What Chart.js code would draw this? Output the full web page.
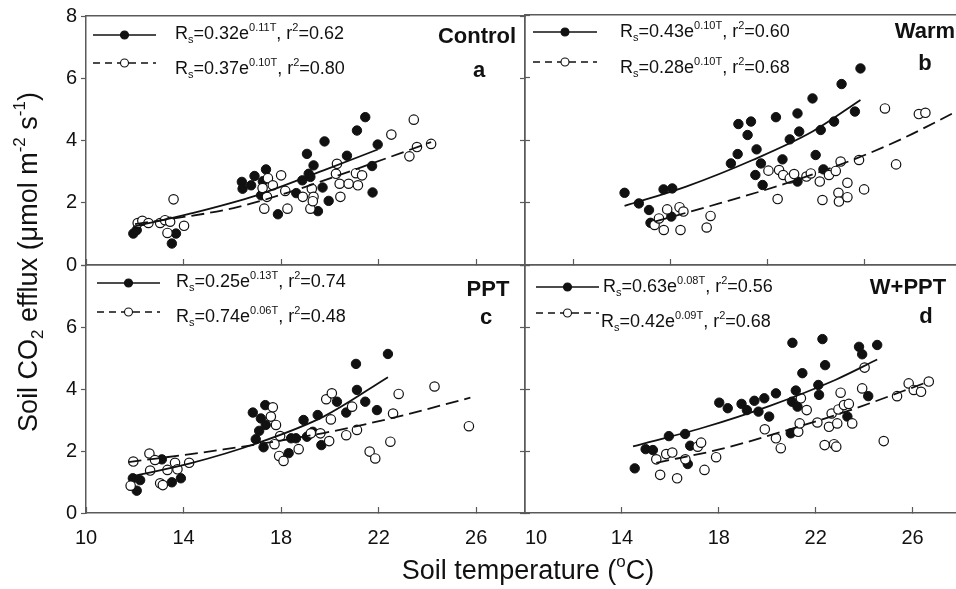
<!DOCTYPE html>
<html>
<head>
<meta charset="utf-8">
<script src="https://cdn.jsdelivr.net/npm/chart.js@4.4.1/dist/chart.umd.min.js"></script>
<style>
  html, body { margin: 0; padding: 0; overflow: hidden; background: #fff; width: 956px; height: 589px; }
  #wrap { position: relative; width: 972px; height: 589px; }
  #wrap canvas { position: absolute; left: 0; top: 0; }
</style>
</head>
<body>
<div id="wrap">
  <canvas id="cA" width="972" height="589"></canvas>
  <canvas id="cB" width="972" height="589"></canvas>
  <canvas id="cC" width="972" height="589"></canvas>
  <canvas id="cD" width="972" height="589"></canvas>
</div>
<script>
// Axis ticks
const yTicks = [0, 2, 4, 6, 8];
const xTicksLabelled = [10, 14, 18, 22, 26];
const xTicksWarm = [12, 16, 20, 24];

// Panel a: Control  [soil temperature, Rs]
const controlFilled = [[11.94,1.01],[12.08,1.12],[13.52,0.69],[13.69,1.01],[16.39,2.67],[16.42,2.45],[16.77,2.56],[16.91,2.86],[17.38,3.07],[17.25,2.69],[17.18,2.24],[17.87,1.63],[18.62,2.31],[18.87,2.72],[19.06,3.57],[19.13,2.93],[19.33,3.20],[19.20,2.83],[19.51,1.73],[19.70,2.49],[19.78,3.97],[19.95,2.06],[20.70,3.51],[21.11,4.32],[21.45,4.75],[21.73,3.18],[21.75,2.33],[21.96,3.87]];
const controlOpen = [[12.12,1.35],[12.31,1.42],[12.56,1.35],[13.04,1.35],[13.24,1.44],[13.45,1.39],[13.34,1.03],[13.59,2.11],[14.02,1.26],[17.24,2.47],[17.46,2.79],[17.66,2.56],[18.00,2.88],[18.17,2.38],[17.42,2.19],[17.31,1.81],[18.26,1.81],[18.89,2.19],[19.26,2.45],[19.33,2.19],[19.20,1.81],[19.30,2.05],[20.29,3.25],[20.25,2.93],[20.40,2.61],[20.43,2.19],[20.77,2.61],[21.07,2.95],[21.15,2.56],[21.32,2.88],[22.52,4.19],[23.44,4.67],[23.26,3.49],[23.57,3.79],[24.15,3.89]];
const controlFitFilled = [[11.94,1.23],[14.27,1.65],[17.00,2.24],[19.74,3.04],[21.96,3.71]];
const controlFitOpen = [[12.01,1.31],[16.05,1.83],[18.37,2.35],[21.11,3.09],[24.15,3.95]];
const controlEq = [['0.32','0.11','0.62'], ['0.37','0.10','0.80']];

// Panel b: Warm
const warmFilled = [[14.11,2.31],[14.70,1.97],[15.12,1.76],[15.18,1.35],[15.72,2.42],[16.08,2.45],[16.04,1.55],[18.50,3.25],[18.78,3.55],[18.81,4.51],[19.19,4.16],[19.33,4.59],[19.56,3.70],[19.74,3.25],[19.51,2.88],[19.81,2.56],[20.36,4.73],[20.63,3.38],[20.93,4.02],[21.25,4.85],[21.32,4.27],[21.25,2.67],[21.87,5.33],[22.00,3.52],[22.21,4.32],[22.32,3.06],[22.76,4.59],[23.07,5.79],[23.62,4.91],[23.85,6.29]];
const warmOpen = [[15.35,1.28],[15.73,1.12],[15.53,1.49],[15.87,1.78],[16.38,1.85],[16.54,1.71],[16.42,1.12],[17.50,1.20],[17.66,1.57],[20.05,3.02],[20.43,2.11],[20.49,3.04],[20.66,2.88],[20.93,2.77],[21.11,2.91],[21.62,2.83],[21.80,2.93],[22.17,2.67],[22.28,2.08],[22.55,2.88],[22.83,3.01],[23.03,3.31],[22.94,2.31],[22.96,2.03],[23.31,2.63],[23.31,2.17],[23.79,3.36],[24.00,2.42],[24.86,5.01],[25.32,3.22],[26.26,4.83],[26.53,4.87]];
const warmFitFilled = [[14.11,1.89],[16.65,2.51],[19.40,3.36],[21.87,4.27],[23.85,5.28]];
const warmFitOpen = [[15.35,1.39],[18.02,1.97],[20.77,2.61],[23.51,3.36],[25.60,4.05],[27.90,4.95]];
const warmEq = [['0.43','0.10','0.60'], ['0.28','0.10','0.68']];

// Panel c: PPT
const pptFilled = [[11.92,1.12],[12.08,0.72],[12.22,1.06],[13.11,1.73],[13.52,0.99],[13.89,1.12],[16.84,3.24],[16.96,2.38],[17.35,3.48],[17.17,3.05],[17.10,2.65],[17.28,2.12],[17.37,2.84],[18.31,1.93],[18.41,2.41],[18.61,2.41],[18.92,3.00],[19.06,2.46],[19.30,2.62],[19.50,3.16],[19.65,2.19],[20.29,3.59],[20.67,3.24],[21.11,3.97],[21.07,4.81],[21.45,3.59],[21.93,3.32],[22.38,5.13]];
const pptOpen = [[11.94,1.66],[11.83,0.88],[12.60,1.92],[12.83,1.71],[12.63,1.37],[13.04,0.96],[13.15,0.90],[13.34,1.39],[13.65,1.62],[13.75,1.41],[14.23,1.62],[17.66,3.41],[17.58,3.11],[17.79,2.84],[17.96,2.48],[17.73,2.22],[17.92,1.84],[18.10,1.68],[18.72,2.06],[19.22,2.57],[19.61,2.57],[19.85,3.67],[20.08,3.86],[20.04,3.02],[19.97,2.32],[20.67,2.51],[20.91,3.43],[21.11,2.68],[21.63,1.98],[21.86,1.76],[22.48,2.30],[22.59,3.21],[22.82,3.84],[24.29,4.08],[25.70,2.80]];
const pptFitFilled = [[11.92,1.19],[14.27,1.60],[17.01,2.25],[19.74,3.11],[22.38,4.38]];
const pptFitOpen = [[11.74,1.64],[15.64,2.05],[19.74,2.58],[22.48,3.05],[25.76,3.72]];
const pptEq = [['0.25','0.13','0.74'], ['0.74','0.06','0.48']];

// Panel d: W+PPT
const wpptFilled = [[14.53,1.44],[14.98,2.06],[15.28,2.03],[15.94,2.48],[16.61,2.55],[16.82,2.17],[16.72,1.58],[18.02,3.56],[18.37,3.38],[18.94,3.52],[19.16,3.32],[19.47,3.62],[19.64,3.27],[19.88,3.70],[20.08,3.11],[20.36,3.86],[21.04,5.49],[21.02,3.59],[21.18,3.95],[21.25,3.43],[21.45,4.51],[20.97,2.57],[22.11,4.13],[22.14,3.81],[22.28,5.61],[22.39,4.77],[23.31,3.11],[23.79,5.36],[23.92,5.12],[24.17,3.77],[24.54,5.42]];
const wpptOpen = [[15.42,1.73],[15.58,1.23],[15.83,1.90],[16.08,1.95],[16.28,1.12],[16.62,1.73],[17.13,2.14],[17.27,2.27],[17.41,1.39],[17.89,1.80],[19.90,2.70],[20.36,2.41],[20.56,2.09],[21.28,2.62],[21.34,2.89],[21.39,3.70],[21.63,3.32],[22.07,2.92],[22.37,2.19],[22.55,2.78],[22.76,2.22],[22.85,2.14],[22.89,2.89],[22.66,3.21],[22.94,3.34],[23.03,3.88],[23.17,3.48],[23.37,3.52],[23.51,2.89],[23.92,4.02],[24.02,4.69],[24.81,2.32],[25.36,3.77],[25.84,4.18],[26.05,3.97],[26.35,3.91],[26.67,4.24]];
const wpptFitFilled = [[14.46,2.15],[17.34,2.75],[20.08,3.45],[22.83,4.30],[24.54,4.95]];
const wpptFitOpen = [[15.42,1.62],[18.02,2.05],[20.77,2.66],[23.51,3.34],[26.67,4.24]];
const wpptEq = [['0.63','0.08','0.56'], ['0.42','0.09','0.68']];

const FONT = "'Liberation Sans', Arial, Helvetica, sans-serif";
const INK = '#111';
const AXIS = '#5a5a5a';
const PAGE_W = 972, PAGE_H = 589;

const panels = [
  { id: 'cA', box: [86, 15, 525, 265], left: true, top: true, bottom: false, xTicks: xTicksLabelled,
    filled: controlFilled, open: controlOpen, fitFilled: controlFitFilled, fitOpen: controlFitOpen, eq: controlEq,
    name: ['Control', 477, 37], letter: ['a', 479, 71],
    leg: [{ x1: 93, x2: 156, y: 35, tx: 175, ty: 34 }, { x1: 93, x2: 156, y: 63, tx: 175, ty: 69 }] },
  { id: 'cB', box: [525, 15, 961, 265], left: false, top: true, bottom: false, xTicks: xTicksWarm,
    filled: warmFilled, open: warmOpen, fitFilled: warmFitFilled, fitOpen: warmFitOpen, eq: warmEq,
    name: ['Warm', 925, 32], letter: ['b', 925, 64],
    leg: [{ x1: 533, x2: 597, y: 32, tx: 620, ty: 32 }, { x1: 533, x2: 597, y: 62, tx: 620, ty: 68 }] },
  { id: 'cC', box: [86, 265, 525, 513], left: true, top: false, bottom: true, xTicks: xTicksLabelled,
    filled: pptFilled, open: pptOpen, fitFilled: pptFitFilled, fitOpen: pptFitOpen, eq: pptEq,
    name: ['PPT', 488, 290], letter: ['c', 486, 318], titles: true,
    leg: [{ x1: 97, x2: 160, y: 283, tx: 176, ty: 282 }, { x1: 97, x2: 160, y: 312, tx: 176, ty: 317 }] },
  { id: 'cD', box: [525, 265, 961, 513], left: false, top: false, bottom: true, xTicks: xTicksLabelled.slice(1), tenLabel: true,
    filled: wpptFilled, open: wpptOpen, fitFilled: wpptFitFilled, fitOpen: wpptFitOpen, eq: wpptEq,
    name: ['W+PPT', 908, 288], letter: ['d', 926, 317],
    leg: [{ x1: 536, x2: 599, y: 287, tx: 603, ty: 287 }, { x1: 536, x2: 599, y: 313, tx: 601, ty: 322 }] }
];

const toXY = arr => arr.map(([x, y]) => ({ x, y }));

function eqParts([a, b, r2]) {
  return [['R', 'n'], ['s', 'sub'], ['=' + a + 'e', 'n'], [b + 'T', 'sup'], [', r', 'n'], ['2', 'sup'], ['=' + r2, 'n']];
}

// draw text with sub/superscript pieces
function drawRich(ctx, x, y, parts, size, align) {
  const small = Math.round(size * 0.62);
  let total = 0;
  const items = parts.map(([txt, kind]) => {
    const fs = kind === 'n' ? size : small;
    ctx.font = fs + 'px ' + FONT;
    const w = ctx.measureText(txt).width;
    total += w;
    return { txt, kind, fs, w };
  });
  let cx = align === 'center' ? x - total / 2 : x;
  ctx.textAlign = 'left';
  ctx.textBaseline = 'middle';
  items.forEach(it => {
    ctx.font = it.fs + 'px ' + FONT;
    const dy = it.kind === 'sup' ? -size * 0.36 : it.kind === 'sub' ? size * 0.32 : 0;
    ctx.fillText(it.txt, cx, y + dy);
    cx += it.w;
  });
}

function legendRow(ctx, row, dashed, parts) {
  ctx.strokeStyle = INK;
  ctx.lineWidth = 1.6;
  ctx.setLineDash(dashed ? [7, 5] : []);
  ctx.beginPath();
  ctx.moveTo(row.x1, row.y);
  ctx.lineTo(row.x2, row.y);
  ctx.stroke();
  ctx.setLineDash([]);
  const mx = (row.x1 + row.x2) / 2;
  ctx.beginPath();
  ctx.arc(mx, row.y, 4, 0, Math.PI * 2);
  ctx.fillStyle = dashed ? '#fff' : INK;
  ctx.fill();
  ctx.lineWidth = 1.1;
  ctx.stroke();
  ctx.fillStyle = INK;
  drawRich(ctx, row.tx, row.ty, parts, 18, 'left');
}

function decoPlugin(p) {
  return {
    id: 'deco',
    afterDraw(chart) {
      const ctx = chart.ctx;
      ctx.save();
      legendRow(ctx, p.leg[0], false, eqParts(p.eq[0]));
      legendRow(ctx, p.leg[1], true, eqParts(p.eq[1]));
      ctx.fillStyle = INK;
      ctx.textAlign = 'center';
      ctx.textBaseline = 'middle';
      ctx.font = 'bold 22px ' + FONT;
      ctx.fillText(p.name[0], p.name[1], p.name[2]);
      ctx.fillText(p.letter[0], p.letter[1], p.letter[2]);
      if (p.titles) {
        drawRich(ctx, 528, 572, [['Soil temperature (', 'n'], ['o', 'sup'], ['C)', 'n']], 27, 'center');
        ctx.translate(30, 262);
        ctx.rotate(-Math.PI / 2);
        drawRich(ctx, 0, 0, [['Soil CO', 'n'], ['2', 'sub'], [' efflux (\u03bcmol m', 'n'], ['-2', 'sup'], [' s', 'n'], ['-1', 'sup'], [')', 'n']], 27, 'center');
      }
      ctx.restore();
    }
  };
}

// the left axis box is as wide as the left margin so its labels are not clipped;
// the bottom axis box is as tall as the bottom margin for the same reason
function axisSizes(p) {
  const [l, t, r, b] = p.box;
  return { yWidth: p.left ? l : 0, xHeight: p.bottom ? PAGE_H - b : 0 };
}

function scalesFor(p) {
  const tickFont = { family: FONT, size: 20 };
  const border = { display: true, color: AXIS, width: 1.5 };
  const sz = axisSizes(p);
  const scales = {
    x: {
      type: 'linear', position: 'bottom', min: 10, max: 28, weight: 0,
      afterFit: s => { s.height = sz.xHeight; },
      afterBuildTicks: s => { s.ticks = p.xTicks.map(v => ({ value: v })); },
      grid: { drawOnChartArea: false, tickLength: -6, tickColor: AXIS, tickWidth: 1.2 },
      border,
      ticks: { display: p.bottom, autoSkip: false, maxRotation: 0, padding: 19, color: INK, font: tickFont }
    },
    y: {
      type: 'linear', position: 'left', min: 0, max: 8,
      afterFit: s => { s.width = sz.yWidth; },
      afterBuildTicks: s => { s.ticks = yTicks.map(v => ({ value: v })); },
      grid: { drawOnChartArea: false, tickLength: p.left ? 5 : -5, tickColor: AXIS, tickWidth: 1.2 },
      border,
      ticks: { display: p.left, padding: 4, color: INK, font: tickFont,
               callback: v => (p.top || v < 8) ? String(v) : '' }
    },
    xTop: {
      type: 'linear', position: 'top', min: 10, max: 28,
      afterFit: s => { s.height = 0; },
      grid: { display: false }, border, ticks: { display: false }
    },
    yRight: {
      type: 'linear', position: 'right', min: 0, max: 8,
      afterFit: s => { s.width = 0; },
      afterBuildTicks: s => { s.ticks = yTicks.map(v => ({ value: v })); },
      grid: { display: p.left, drawOnChartArea: false, tickLength: -5, tickColor: AXIS, tickWidth: 1.2 },
      border, ticks: { display: false }
    }
  };
  if (p.tenLabel) {
    // the "10" of the right-hand panels sits a little right of its tick
    scales.xTen = {
      type: 'linear', position: 'bottom', min: 10, max: 28, weight: 5,
      afterFit: s => { s.height = 0; },
      afterBuildTicks: s => { s.ticks = [{ value: xTicksLabelled[0] }]; },
      grid: { display: false, drawTicks: false },
      border: { display: false },
      ticks: { mirror: true, padding: 39, labelOffset: 11, color: INK, font: tickFont, autoSkip: false, maxRotation: 0 }
    };
  }
  return scales;
}

function makeChart(p) {
  const [l, t, r, b] = p.box;
  const sz = axisSizes(p);
  return new Chart(document.getElementById(p.id), {
    type: 'scatter',
    data: {
      datasets: [
        { data: toXY(p.fitFilled), showLine: true, pointRadius: 0, borderColor: INK, borderWidth: 1.8,
          cubicInterpolationMode: 'monotone' },
        { data: toXY(p.fitOpen), showLine: true, pointRadius: 0, borderColor: INK, borderWidth: 1.8,
          borderDash: [13, 6], cubicInterpolationMode: 'monotone' },
        { data: toXY(p.open), pointRadius: 4.7, pointBackgroundColor: '#fff', pointBorderColor: INK, pointBorderWidth: 1.2 },
        { data: toXY(p.filled), pointRadius: 4.7, pointBackgroundColor: INK, pointBorderColor: INK, pointBorderWidth: 1 }
      ]
    },
    options: {
      responsive: false,
      animation: false,
      events: [],
      devicePixelRatio: 1,
      layout: { autoPadding: false,
                padding: { left: l - sz.yWidth, top: t, right: PAGE_W - r, bottom: PAGE_H - b - sz.xHeight } },
      plugins: { legend: { display: false }, tooltip: { enabled: false } },
      scales: scalesFor(p)
    },
    plugins: [decoPlugin(p)]
  });
}

panels.forEach(makeChart);
</script>
</body>
</html>
